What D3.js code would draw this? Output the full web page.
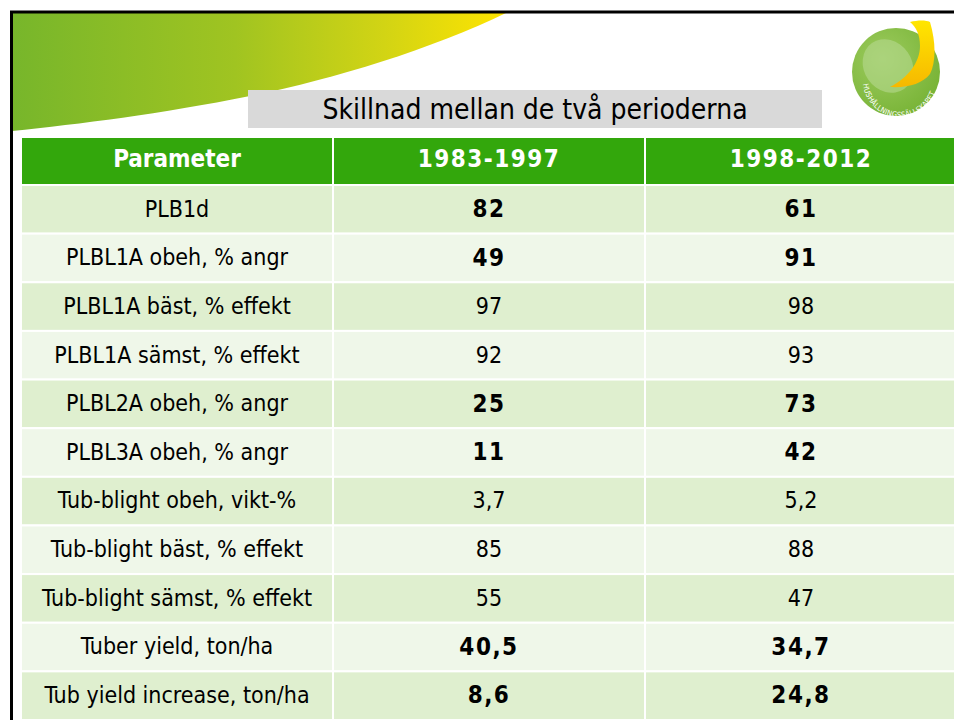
<!DOCTYPE html>
<html><head><meta charset="utf-8">
<script src="https://cdn.jsdelivr.net/npm/d3@7"></script>
<style>body{margin:0;background:#fff}svg{display:block}</style>
</head><body>
<script>
const title = "Skillnad mellan de två perioderna";
const columns = ["Parameter", "1983-1997", "1998-2012"];
const parameters = ["PLB1d","PLBL1A obeh, % angr","PLBL1A bäst, % effekt","PLBL1A sämst, % effekt","PLBL2A obeh, % angr","PLBL3A obeh, % angr","Tub-blight obeh, vikt-%","Tub-blight bäst, % effekt","Tub-blight sämst, % effekt","Tuber yield, ton/ha","Tub yield increase, ton/ha"];
const period1 = [82, 49, 97, 92, 25, 11, 3.7, 85, 55, 40.5, 8.6];
const period2 = [61, 91, 98, 93, 73, 42, 5.2, 88, 47, 34.7, 24.8];
const highlighted = [true, true, false, false, true, true, false, false, false, true, true];

const W = 954, H = 720;
const svg = d3.select("body").append("svg").attr("width", W).attr("height", H);
const defs = svg.append("defs");
const fmt = v => String(v).replace(".", ",");
const FONT = "'DejaVu Sans Condensed','DejaVu Sans',sans-serif";

// swoosh gradient
const lg = defs.append("linearGradient").attr("id","sw").attr("x1","0").attr("x2","1").attr("y1","0").attr("y2","0");
lg.append("stop").attr("offset","0").attr("stop-color","#77b62b");
lg.append("stop").attr("offset","0.45").attr("stop-color","#a0c421");
lg.append("stop").attr("offset","0.75").attr("stop-color","#d2d414");
lg.append("stop").attr("offset","1").attr("stop-color","#ffe400");
svg.append("path").attr("fill","url(#sw)")
  .attr("d","M12,12 L508,12 C430,50 330,80 250,96 C160,114 80,124 12,131 Z");

// frame
svg.append("line").attr("x1",10).attr("x2",W).attr("y1",12).attr("y2",12).attr("stroke","#000").attr("stroke-width",3);
svg.append("line").attr("x1",11.5).attr("x2",11.5).attr("y1",11).attr("y2",H).attr("stroke","#000").attr("stroke-width",3);

// logo
const logo = svg.append("g").attr("transform","translate(896,72)");
const rg = defs.append("radialGradient").attr("id","lg").attr("cx","0.35").attr("cy","0.35").attr("r","0.75");
rg.append("stop").attr("offset","0").attr("stop-color","#9ccb5e");
rg.append("stop").attr("offset","1").attr("stop-color","#76b234");
logo.append("circle").attr("r",44).attr("fill","url(#lg)");
logo.append("ellipse").attr("cx",-8).attr("cy",-6).attr("rx",24).attr("ry",28)
  .attr("transform","rotate(-35,-8,-6)").attr("fill","#b5d98f").attr("opacity",0.6);
const yg = defs.append("linearGradient").attr("id","yg").attr("x1","0").attr("x2","0").attr("y1","0").attr("y2","1");
yg.append("stop").attr("offset","0").attr("stop-color","#ffe600");
yg.append("stop").attr("offset","1").attr("stop-color","#f6b800");
logo.append("path").attr("fill","url(#yg)")
  .attr("d","M14,-50 C22,-52 30,-52 34,-50 C40,-30 40,-10 34,2 C26,12 12,16 -6,15 C12,6 24,-10 24,-26 C24,-38 20,-45 14,-50 Z");
defs.append("path").attr("id","arc").attr("d","M-33,12 A36,36 0 0 0 41,4");
logo.append("text").attr("font-family",FONT).attr("font-size",7.5).attr("fill","#fff").attr("letter-spacing",0.2)
  .append("textPath").attr("href","#arc").text("HUSHÅLLNINGSSÄLLSKAPET");

// title box
svg.append("rect").attr("x",248).attr("y",90).attr("width",574).attr("height",38).attr("fill","#d9d9d9");
svg.append("text").attr("x",535).attr("y",109).attr("dy","0.36em").attr("text-anchor","middle")
  .attr("font-family",FONT).attr("font-size",28).attr("fill","#000").text(title);

// table
const colX = d3.scaleOrdinal().domain(columns).range([21, 333, 645]);
const colW = d3.scaleOrdinal().domain(columns).range([312, 312, 312]);
const rowY = d3.scaleBand().domain(d3.range(parameters.length)).range([185, 720]).paddingInner(0);
const headerY = 137, headerH = 48;

const hdr = svg.append("g");
hdr.selectAll("rect").data(columns).join("rect")
  .attr("x", d => colX(d)).attr("y", headerY).attr("width", d => colW(d)).attr("height", headerH)
  .attr("fill","#33a70c").attr("stroke","#fff").attr("stroke-width",2);
hdr.selectAll("text").data(columns).join("text")
  .attr("x", d => colX(d) + colW(d)/2).attr("y", headerY + headerH/2 - 3).attr("dy","0.36em")
  .attr("text-anchor","middle").attr("font-family",FONT).attr("font-weight","bold")
  .attr("letter-spacing", (d,i) => i > 0 ? 1.5 : 0)
  .attr("font-size",24).attr("fill","#fff").text(d => d);

const rows = parameters.map((p,i) => ({i, cells:[p, fmt(period1[i]), fmt(period2[i])], bold: highlighted[i]}));
const rg2 = svg.append("g").selectAll("g").data(rows).join("g");
rg2.selectAll("rect").data(r => columns.map((c,j) => ({r, c, j}))).join("rect")
  .attr("x", d => colX(d.c)).attr("y", d => rowY(d.r.i)).attr("width", d => colW(d.c)).attr("height", rowY.bandwidth())
  .attr("fill", d => d.r.i % 2 === 0 ? "#dfefcf" : "#eff7e9").attr("stroke","#fff").attr("stroke-width",2);
rg2.selectAll("text").data(r => columns.map((c,j) => ({r, c, j}))).join("text")
  .attr("x", d => colX(d.c) + colW(d.c)/2).attr("y", d => rowY(d.r.i) + rowY.bandwidth()/2 - 1)
  .attr("dy","0.36em").attr("text-anchor","middle").attr("font-family",FONT)
  .attr("font-weight", d => d.j > 0 && d.r.bold ? "bold" : "normal")
  .attr("letter-spacing", d => d.j > 0 && d.r.bold ? 1.5 : 0)
  .attr("font-size", d => d.j > 0 && d.r.bold ? 24 : 23)
  .attr("fill","#000").text(d => d.r.cells[d.j]);
</script>
</body></html>
